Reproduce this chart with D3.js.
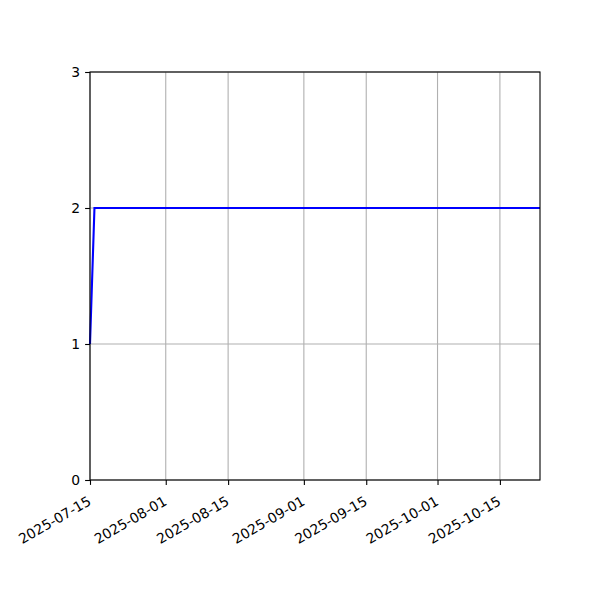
<!DOCTYPE html>
<html>
<head>
<meta charset="utf-8">
<script src="https://cdn.jsdelivr.net/npm/d3@7.9.0/dist/d3.min.js"></script>
<style>
  body { margin: 0; background: #fff; }
  svg text { font-family: "DejaVu Sans", sans-serif; font-size: 13.9px; fill: #000; }
</style>
</head>
<body>
<svg id="chart" width="600" height="600"></svg>
<script>
// data
const dates = ["2025-07-15", "2025-07-16", "2025-10-24"];
const counts = [1, 2, 2];
const xTickLabels = ["2025-07-15", "2025-08-01", "2025-08-15", "2025-09-01", "2025-09-15", "2025-10-01", "2025-10-15"];
const yTicks = [0, 1, 2, 3];
const xDomain = ["2025-07-15", "2025-10-24"];

const parse = d3.utcParse("%Y-%m-%d");
const points = dates.map((d, i) => ({ date: parse(d), value: counts[i] }));

const margin = { top: 72, right: 60, bottom: 120, left: 90 };
const width = 600 - margin.left - margin.right;
const height = 600 - margin.top - margin.bottom;

const svg = d3.select("#chart");
const g = svg.append("g").attr("transform", `translate(${margin.left},${margin.top})`);

const x = d3.scaleUtc().domain(xDomain.map(parse)).range([0, width]);
const y = d3.scaleLinear().domain([0, 3]).range([height, 0]);

// grid lines
g.append("g")
  .selectAll("line")
  .data(xTickLabels.map(parse))
  .join("line")
  .attr("x1", d => x(d)).attr("x2", d => x(d))
  .attr("y1", 0).attr("y2", height)
  .attr("stroke", "#b0b0b0").attr("stroke-width", 1.1);

g.append("g")
  .selectAll("line")
  .data(yTicks)
  .join("line")
  .attr("x1", 0).attr("x2", width)
  .attr("y1", d => y(d)).attr("y2", d => y(d))
  .attr("stroke", "#b0b0b0").attr("stroke-width", 1.1);

// line
const line = d3.line().x(d => x(d.date)).y(d => y(d.value));
g.append("path")
  .datum(points)
  .attr("d", line)
  .attr("fill", "none")
  .attr("stroke", "#0000ff")
  .attr("stroke-width", 2.1);

// axes
const xAxis = d3.axisBottom(x)
  .tickValues(xTickLabels.map(parse))
  .tickFormat(d3.utcFormat("%Y-%m-%d"))
  .tickSize(4.9);

const xg = g.append("g").attr("transform", `translate(0,${height})`).call(xAxis);
xg.select(".domain").remove();
xg.selectAll(".tick line").attr("stroke", "#000").attr("stroke-width", 1.1);
// rotated 30deg, right-aligned like matplotlib's autofmt_xdate
xg.selectAll(".tick text")
  .attr("text-anchor", "end")
  .attr("x", 0).attr("y", 0).attr("dy", null)
  .attr("transform", "translate(1.6,24) rotate(-30)");

const yAxis = d3.axisLeft(y).tickValues(yTicks).tickFormat(d3.format("d")).tickSize(4.9).tickPadding(4.9);
const yg = g.append("g").call(yAxis);
yg.select(".domain").remove();
yg.selectAll(".tick line").attr("stroke", "#000").attr("stroke-width", 1.1);

// frame
g.append("rect")
  .attr("width", width).attr("height", height)
  .attr("fill", "none").attr("stroke", "#000").attr("stroke-width", 1.1);

svg.selectAll("text").style("font-family", "'DejaVu Sans', sans-serif").style("font-size", "13.9px");
</script>
</body>
</html>
